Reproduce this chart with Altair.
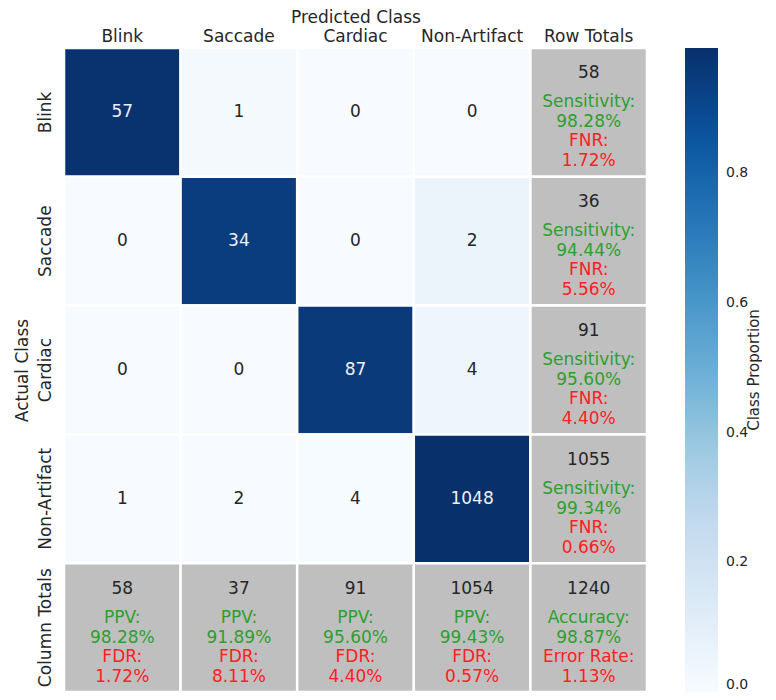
import altair as alt
import pandas as pd
import numpy as np

classes = ["Blink", "Saccade", "Cardiac", "Non-Artifact"]
x_order = classes + ["Row Totals"]
y_order = classes + ["Column Totals"]
counts = [[57, 1, 0, 0],
          [0, 34, 0, 2],
          [0, 0, 87, 4],
          [1, 2, 4, 1048]]
row_totals = [58, 36, 91, 1055]
col_totals = [58, 37, 91, 1054]
grand_total = 1240
sensitivity = ["98.28%", "94.44%", "95.60%", "99.34%"]
fnr = ["1.72%", "5.56%", "4.40%", "0.66%"]
ppv = ["98.28%", "91.89%", "95.60%", "99.43%"]
fdr = ["1.72%", "8.11%", "4.40%", "0.57%"]
accuracy = "98.87%"
error_rate = "1.13%"
cbar_ticks = [0.0, 0.2, 0.4, 0.6, 0.8]
blues = ["#f7fbff", "#deebf7", "#c6dbef", "#9ecae1", "#6baed6",
         "#4292c6", "#2171b5", "#08519c", "#08306b"]

FONT = "DejaVu Sans"
DARK = "#262626"
GREEN = "#2ca02c"
RED = "#ff2020"
GREY = "#bfbfbf"

cells = pd.DataFrame([
    {"actual": classes[i], "predicted": classes[j], "count": counts[i][j],
     "prop": counts[i][j] / row_totals[i]}
    for i in range(4) for j in range(4)
])
vmax = float(cells["prop"].max())
stops = [float(v) for v in np.linspace(0, vmax, len(blues))]

rows = []
for i, c in enumerate(classes):
    rows.append({"actual": c, "predicted": "Row Totals", "count": row_totals[i],
                 "l1": "Sensitivity:", "v1": sensitivity[i], "l2": "FNR:", "v2": fnr[i]})
for j, c in enumerate(classes):
    rows.append({"actual": "Column Totals", "predicted": c, "count": col_totals[j],
                 "l1": "PPV:", "v1": ppv[j], "l2": "FDR:", "v2": fdr[j]})
rows.append({"actual": "Column Totals", "predicted": "Row Totals", "count": grand_total,
             "l1": "Accuracy:", "v1": accuracy, "l2": "Error Rate:", "v2": error_rate})
totals = pd.DataFrame(rows)

X = alt.X("predicted:N", sort=x_order,
          scale=alt.Scale(domain=x_order, paddingInner=0, paddingOuter=0),
          axis=alt.Axis(orient="top", title="Predicted Class", labelAngle=0,
                        labelPadding=3, titlePadding=1))
Y = alt.Y("actual:N", sort=y_order,
          scale=alt.Scale(domain=y_order, paddingInner=0, paddingOuter=0),
          axis=alt.Axis(title="Actual Class", labelAngle=270, labelAlign="center",
                        labelBaseline="bottom", labelPadding=10, titlePadding=5))

heat = alt.Chart(cells).mark_rect(stroke="white", strokeWidth=2.5).encode(
    x=X, y=Y,
    color=alt.Color("prop:Q",
                    scale=alt.Scale(domain=stops, range=blues),
                    legend=alt.Legend(orient="none", legendX=621, legendY=0,
                                      direction="vertical", gradientLength=644,
                                      gradientThickness=33, title=None,
                                      values=cbar_ticks, format=".1f",
                                      labelFontSize=14, labelFont=FONT,
                                      labelColor=DARK, labelOffset=8,
                                      labelBaseline="middle",
                                      gradientStrokeWidth=0, padding=0)),
)

grey = alt.Chart(totals).mark_rect(color=GREY, stroke="white", strokeWidth=2.5).encode(
    x=X, y=Y)

cell_text = alt.Chart(cells).mark_text(fontSize=17, font=FONT).encode(
    x=X, y=Y, text=alt.Text("count:Q"),
    color=alt.condition("datum.prop > 0.5", alt.value("#f0f0f0"), alt.value(DARK)),
)

def tot_layer(field, color, dy):
    return alt.Chart(totals).mark_text(fontSize=17, font=FONT, color=color, dy=dy).encode(
        x=X, y=Y, text=alt.Text(field))

t_count = tot_layer("count:Q", DARK, -39)
t_l1 = tot_layer("l1:N", GREEN, -10)
t_v1 = tot_layer("v1:N", GREEN, 10)
t_l2 = tot_layer("l2:N", RED, 29)
t_v2 = tot_layer("v2:N", RED, 49)

cbar_title = alt.Chart(pd.DataFrame({"t": ["Class Proportion"]})).mark_text(
    angle=270, fontSize=15, font=FONT, color=DARK).encode(
    text="t:N", x=alt.value(690), y=alt.value(322))

chart = alt.layer(heat, grey, cell_text, t_count, t_l1, t_v1, t_l2, t_v2, cbar_title).properties(
    width=583, height=644,
    padding={"left": 5, "top": 0, "right": 0, "bottom": 5},
).configure_axis(
    labelFont=FONT, titleFont=FONT, labelFontSize=17, titleFontSize=17,
    titleFontWeight="normal", labelColor=DARK, titleColor=DARK,
    ticks=False, domain=False, grid=False,
).configure_view(stroke=None)

chart.save("out.html", embed_options={"renderer": "svg", "actions": False})
